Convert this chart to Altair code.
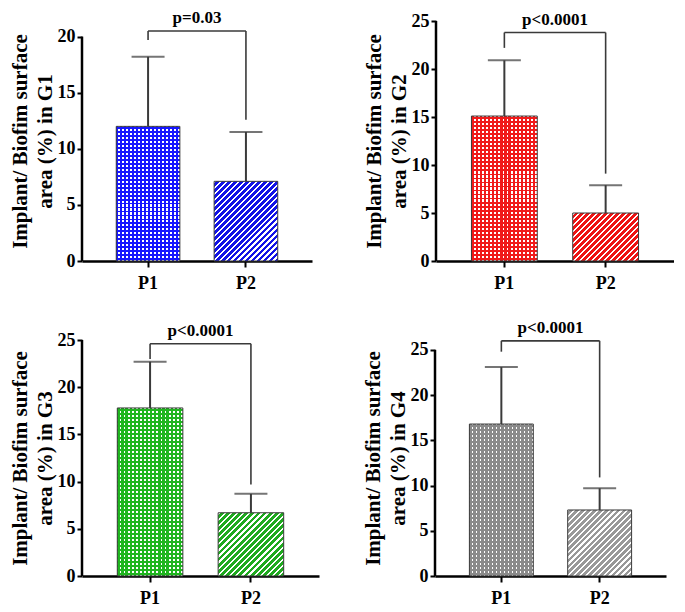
import math
import altair as alt
import pandas as pd

# ---------------- data ----------------
groups = ["G1", "G2", "G3", "G4"]
cats = ["P1", "P2"]
means = [[12.0, 7.1], [15.1, 5.0], [17.8, 6.7], [16.8, 7.3]]
err_tops = [[18.2, 11.5], [20.9, 7.9], [22.7, 8.7], [23.1, 9.7]]
p_labels = ["p=0.03", "p<0.0001", "p<0.0001", "p<0.0001"]
bracket_y = [20.5, 23.8, 24.6, 26.0]
leg_p1 = [19.7, 22.2, 23.0, 24.8]
leg_p2 = [12.6, 9.1, 9.7, 10.9]
axis_max = [20, 25, 25, 25]
tick_vals = [[0, 5, 10, 15, 20], [0, 5, 10, 15, 20, 25],
             [0, 5, 10, 15, 20, 25], [0, 5, 10, 15, 20, 25]]

# ---------------- styles / layout ----------------
check_colors = ["#1616ff", "#f01a1a", "#1fb51f", "#8a8a8a"]
hatch_colors = ["#1212e6", "#ee1414", "#1faa1f", "#999999"]
widths = [230, 238, 237, 231]
frame_h = [240, 240, 236, 236]
# fraction of the frame height occupied by the drawn axis (from reference)
axis_frac = [230 / 246, 1.0, 1.0, 229 / 239]
PI, PO = 0.35, 0.35
FONT = "Liberation Serif"
LINE = "#3a3a3a"
CHECK = 4.0      # checker period, px
HATCH = 6.0      # hatch period, px
MAX_PERIODS = 20  # per gradient segment


def stripe_stops(ca, cb, n, frac):
    stops = []
    for i in range(n):
        a = round(i / n, 5)
        b = round((i + frac) / n, 5)
        c = round((i + 1) / n, 5)
        stops += [alt.GradientStop(offset=a, color=ca),
                  alt.GradientStop(offset=b, color=ca),
                  alt.GradientStop(offset=b, color=cb),
                  alt.GradientStop(offset=c, color=cb)]
    return stops


def centered_stops(bg, fg, n, frac):
    # each period: bg | fg (frac) | bg, so both ends of the gradient are bg
    stops = []
    lo = (1 - frac) / 2
    for i in range(n):
        a = round(i / n, 5)
        b = round((i + lo) / n, 5)
        c = round((i + lo + frac) / n, 5)
        d = round((i + 1) / n, 5)
        stops += [alt.GradientStop(offset=a, color=bg),
                  alt.GradientStop(offset=b, color=bg),
                  alt.GradientStop(offset=b, color=fg),
                  alt.GradientStop(offset=c, color=fg),
                  alt.GradientStop(offset=c, color=bg),
                  alt.GradientStop(offset=d, color=bg)]
    return stops


def panel(k):
    g = groups[k]
    W, H = widths[k], frame_h[k]
    D = axis_max[k] / axis_frac[k]
    step = W / (2 - PI + 2 * PO)
    bw = step * (1 - PI)

    df = pd.DataFrame({"cat": cats, "mean": means[k], "top": err_tops[k]})
    df1 = df[df.cat == "P1"]
    df2 = df[df.cat == "P2"]

    xaxis = alt.Axis(title=None, labelFont=FONT, labelFontWeight="bold",
                     labelFontSize=18, labelColor="black", labelAngle=0,
                     labelPadding=7, domainColor="black", domainWidth=2.5,
                     tickColor="black", tickWidth=2, tickSize=6, grid=False)
    yaxis = alt.Axis(title=["Implant/ Biofim surface", f"area (%) in {g}"],
                     titleFont=FONT, titleFontWeight="bold", titleFontSize=21,
                     titleColor="black", titleLineHeight=25, titlePadding=2,
                     labelFont=FONT, labelFontWeight="bold", labelFontSize=18,
                     labelColor="black", labelPadding=2, values=tick_vals[k],
                     domain=False, tickColor="black", tickWidth=2, tickSize=5,
                     grid=False)
    xs = alt.Scale(domain=cats, paddingInner=PI, paddingOuter=PO)
    ysc = alt.Scale(domain=[0, D], nice=False, zero=True)

    def X(f="cat:N"):
        return alt.X(f, scale=xs, axis=xaxis)

    def Y(f):
        return alt.Y(f, scale=ysc, axis=yaxis)

    layers = []
    # P1 checker: vertical stripes on white, then horizontal stripes overlay
    h1 = means[k][0] / D * H
    nv = max(1, round(bw / CHECK))
    g_v = alt.LinearGradient(gradient="linear", x1=0, y1=0, x2=1, y2=0,
                             stops=stripe_stops(check_colors[k], "#ffffff", nv, 0.55))
    layers.append(alt.Chart(df1).mark_bar(fill=g_v, strokeWidth=0).encode(x=X(), y=Y("mean:Q")))
    total = h1 / CHECK
    m = max(1, math.ceil(total / MAX_PERIODS))
    nseg = max(1, round(total / m))
    g_h = alt.LinearGradient(gradient="linear", x1=0, y1=0, x2=0, y2=1,
                             stops=centered_stops("transparent", check_colors[k], nseg, 0.45))
    seg = pd.DataFrame({"cat": ["P1"] * m,
                        "y0": [means[k][0] * j / m for j in range(m)],
                        "y1": [means[k][0] * (j + 1) / m for j in range(m)]})
    layers.append(alt.Chart(seg).mark_bar(fill=g_h, strokeWidth=0).encode(
        x=X(), y=Y("y0:Q"), y2="y1:Q"))
    layers.append(alt.Chart(df1).mark_bar(fill="transparent", stroke=LINE, strokeWidth=1).encode(
        x=X(), y=Y("mean:Q")))

    # P2 diagonal hatch at 45 degrees
    h2 = means[k][1] / D * H
    s = (bw + h2) / (bw * bw + h2 * h2)
    nd = max(1, round((bw + h2) / HATCH))
    g_d = alt.LinearGradient(gradient="linear", x1=0, y1=0, x2=s * bw, y2=s * h2,
                             stops=stripe_stops("#ffffff", hatch_colors[k], nd, 0.38))
    layers.append(alt.Chart(df2).mark_bar(fill=g_d, stroke=LINE, strokeWidth=1).encode(
        x=X(), y=Y("mean:Q")))

    layers.append(alt.Chart(df).mark_rule(color=LINE, strokeWidth=2).encode(
        x=X(), y=Y("mean:Q"), y2="top:Q"))
    layers.append(alt.Chart(df).mark_tick(color=LINE, thickness=2, size=33).encode(
        x=X(), y=Y("top:Q")))

    layers.append(alt.Chart(pd.DataFrame({"a": [0], "b": [axis_max[k]]})).mark_rule(
        color="black", strokeWidth=2.5).encode(x=alt.value(0), y=Y("a:Q"), y2="b:Q"))

    br = pd.DataFrame({"c1": ["P1"], "c2": ["P2"], "yb": [bracket_y[k]], "lab": [p_labels[k]]})
    legs = pd.DataFrame({"cat": cats, "low": [leg_p1[k], leg_p2[k]],
                         "yb": [bracket_y[k], bracket_y[k]]})
    layers.append(alt.Chart(br).mark_rule(color=LINE, strokeWidth=1.6).encode(
        x=X("c1:N"), x2="c2:N", y=Y("yb:Q")))
    layers.append(alt.Chart(legs).mark_rule(color=LINE, strokeWidth=1.6).encode(
        x=X(), y=Y("low:Q"), y2="yb:Q"))
    layers.append(alt.Chart(br).mark_text(font=FONT, fontWeight="bold", fontSize=17,
                                          color="black", baseline="alphabetic", dy=-8).encode(
        x=alt.value(W / 2), y=Y("yb:Q"), text="lab:N"))

    return alt.layer(*layers).properties(width=W, height=H)


row1 = alt.hconcat(panel(0), panel(1), spacing=51)
row2 = alt.hconcat(panel(2), panel(3), spacing=43)
chart = alt.vconcat(row1, row2, spacing=26).properties(
    padding={"left": 1, "right": 0, "top": 0, "bottom": 0}
).configure(background="white").configure_view(stroke=None)

chart.save("out.html", embed_options={"renderer": "svg", "actions": False})
